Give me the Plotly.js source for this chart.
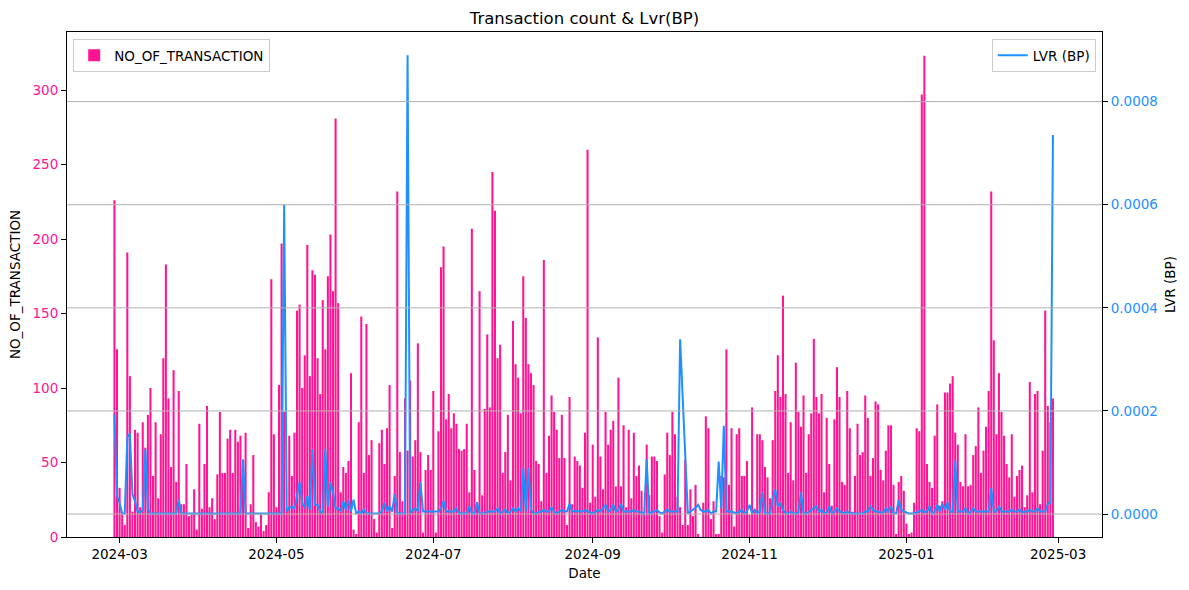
<!DOCTYPE html>
<html>
<head>
<meta charset="utf-8">
<script src="https://cdn.plot.ly/plotly-3.0.1.min.js"></script>
<style>
  body { margin: 0; background: white; }
  #chart { width: 1189px; height: 590px; }
</style>
</head>
<body>
<div id="chart"></div>
<script>
// daily data, first day 2024-02-28
var startDate = '2024-02-28';

// NO_OF_TRANSACTION per day
var txCount = [
  226, 126, 33, 15, 8, 191, 108, 17, 72, 70, 20, 77, 60, 82, 100, 41, 77, 26, 69, 120,
  183, 93, 47, 112, 37, 98, 22, 22, 49, 14, 15, 32, 5, 76,
  19, 49, 88, 20, 26, 12, 42, 84, 43, 43, 66, 72, 43, 72, 64, 68, 51, 70, 6, 22,
  55, 10, 7, 15, 4, 8, 30, 173, 69, 20, 102, 197, 84, 19, 68, 41, 70, 152, 156,
  100, 122, 196, 108, 179, 176, 120, 96, 159, 126, 175, 203, 165, 281, 157, 30, 47, 43, 51, 110,
  5, 2, 77, 148, 43, 143, 55, 65, 12, 3, 63, 72, 49, 73, 102, 6, 41,
  232, 57, 24, 93, 58, 105, 54, 65, 130, 57, 3, 45, 55, 45, 98, 3, 71, 181, 195, 79,
  96, 73, 83, 76, 59, 58, 59, 76, 30, 207, 45, 22, 165, 28, 86,
  136, 87, 245, 219, 120, 129, 43, 57, 82, 38, 145, 116, 107, 83, 175, 147, 116, 110, 102, 51,
  49, 24, 186, 43, 68, 95, 84, 72, 53, 82, 53, 8, 94, 22, 54, 51, 48,
  33, 70, 260, 23, 62, 27, 134, 54, 32, 84, 62, 72, 78, 34, 107, 34, 75, 20, 72, 26,
  70, 41, 48, 31, 15, 62, 28, 54, 54, 51, 14, 3, 42, 70, 55, 84,
  69, 27, 20, 8, 52, 8, 32, 14, 35, 2, 0, 23, 81, 73, 12, 24, 2, 2, 41, 40,
  126, 35, 73, 7, 69, 73, 41, 41, 51, 15, 87, 19, 69, 69, 65, 47, 40,
  26, 65, 98, 122, 94, 162, 96, 43, 77, 38, 117, 84, 74, 95, 43, 69, 83, 133, 94, 83,
  96, 30, 80, 49, 21, 79, 114, 94, 37, 35, 98, 73, 17, 41, 76, 55, 57,
  95, 80, 41, 53, 91, 89, 45, 38, 58, 75, 75, 35, 2, 37, 41, 31, 9, 2, 3, 23,
  73, 71, 297, 323, 49, 37, 33, 68, 89, 21, 24, 97, 97, 103, 108, 70, 62,
  37, 34, 69, 34, 35, 55, 61, 87, 43, 58, 74, 98, 232, 132, 69, 110, 84, 68, 49, 40,
  69, 27, 41, 45, 48, 20, 28, 104, 30, 96, 98, 22, 58, 152, 88, 77, 93
];

// LVR (BP) per day
var lvr = [
  1.93e-4, 3.5e-5, 2.2e-5, 1e-6, 1e-6, 1.49e-4, 1.56e-4, 3.8e-5, 2.5e-5, 5e-6,
  3e-6, 8e-6, 1.26e-4, 9e-6, 1e-6, 1e-6, 1e-6, 1e-6, 1e-6, 1e-6,
  1e-6, 1e-6, 1e-6, 1e-6, 1e-6, 2.8e-5, 1e-6, 1e-6, 1e-6, 1e-6,
  1e-6, 1e-6, 1e-6, 1e-6,
  1e-6, 1e-6, 1e-6, 1e-6, 1e-6, 1e-6, 1e-6, 1e-6, 1e-6, 1e-6,
  1e-6, 1e-6, 1e-6, 1e-6, 1e-6, 1e-6, 1.06e-4, 1e-6, 1e-6, 1e-6,
  1e-6, 1e-6, 1e-6, 1e-6, 1e-6, 1e-6, 1e-6, 1e-6, 1e-6, 1e-6,
  1e-6, 1e-6, 6.0e-4, 5e-6, 1.3e-5, 1.3e-5, 1.1e-5, 3.5e-5, 6.2e-5,
  2.2e-5, 1.1e-5, 3.5e-5, 8e-6, 1.26e-4, 1.8e-5, 1.8e-5, 5e-6, 1e-6, 1.26e-4,
  1.5e-5, 6.2e-5, 4.2e-5, 1.1e-5, 1.1e-5, 5e-6, 2.5e-5, 8e-6, 2.7e-5, 5e-6,
  2.8e-5, 1e-6, 5e-6, 1e-6, 9e-6, 1e-6, 1e-6, 1e-6, 1e-6, 1e-6,
  1e-6, 5e-6, 2.2e-5, 5e-6, 1.5e-5, 5e-6, 3.8e-5,
  1e-6, 1e-6, 1e-6, 1e-6, 8.9e-4, 1e-6, 8e-6, 1.1e-5, 5e-6, 6.2e-5,
  5e-6, 5e-6, 5e-6, 5e-6, 5e-6, 5e-6, 5e-6, 1.1e-5, 2.5e-5, 5e-6,
  5e-6, 5e-6, 5e-6, 1.1e-5, 1e-6, 1e-6, 1e-6, 1e-6, 1.5e-5, 1e-6,
  1e-6, 2.3e-5, 1e-6, 1e-6, 1e-6,
  5e-6, 5e-6, 5e-6, 5e-6, 1.1e-5, 1e-6, 5e-6, 9e-6, 1e-6, 5e-6,
  1.1e-5, 5e-6, 1.1e-5, 5e-6, 8.9e-5, 5e-6, 8.9e-5, 8e-6, 1e-6, 1e-6,
  4e-6, 5e-6, 8e-6, 5e-6, 5e-6, 1.3e-5, 5e-6, 1e-6, 5e-6, 8e-6,
  5e-6, 5e-6, 2e-5, 5e-6, 6e-6, 6e-6, 6e-6,
  5e-6, 8e-6, 5e-6, 3e-6, 1e-6, 5e-6, 8e-6, 5e-6, 1.1e-5, 1.8e-5,
  5e-6, 8e-6, 1.8e-5, 5e-6, 8e-6, 2e-5, 5e-6, 5e-6, 5e-6, 5e-6,
  8e-6, 5e-6, 5e-6, 3e-6, 0, 1.06e-4, 1e-6, 3e-6, 5e-6, 8e-6,
  3e-6, 1e-6, 5e-6, 9e-6, 5e-6, 5e-6,
  5e-6, 5e-6, 3.39e-4, 2.2e-4, 1.06e-4, 1e-6, 5e-6, 9e-6, 1.2e-5, 1.8e-5,
  8e-6, 5e-6, 5e-6, 8e-6, 1e-6, 5e-6, 5e-6, 1.02e-4, 1.1e-5, 1.71e-4,
  5e-6, 5e-6, 5e-6, 3e-6, 1e-6, 5e-6, 8e-6, 1e-6, 5e-6, 1.8e-5,
  1e-6, 8e-6, 1e-6, 5e-6, 4.2e-5, 1e-6, 1e-6,
  1e-6, 3e-5, 4.8e-5, 1.5e-5, 2.2e-5, 8e-6, 1e-6, 1e-6, 5e-6, 1e-6,
  1e-6, 3e-6, 4.2e-5, 1e-6, 1e-6, 4e-6, 8e-6, 1.1e-5, 1.5e-5, 5e-6,
  8e-6, 1e-6, 4e-6, 1.5e-5, 1e-6, 5e-6, 1.1e-5, 5e-6, 3e-6, 1e-6,
  5e-6, 2e-6, 1e-6, 1e-6, 1e-6, 1e-6, 1e-6,
  5e-6, 5e-6, 1.5e-5, 8e-6, 5e-6, 5e-6, 3e-6, 3e-6, 1.1e-5, 5e-6,
  1.5e-5, 1e-6, 1e-6, 2.7e-5, 8e-6, 5e-6, 3e-6, 1e-6, 1e-6, 1e-6,
  3e-6, 5e-6, 8e-6, 3e-6, 5e-6, 1.5e-5, 1e-6, 5e-6, 1.8e-5, 5e-6,
  2e-5, 8e-6, 2.2e-5, 5e-6, 4e-6, 1.04e-4, 5e-6,
  5e-6, 5e-6, 1.1e-5, 1e-6, 5e-6, 1.1e-5, 5e-6, 5e-6, 5e-6, 5e-6,
  5e-6, 5e-6, 5e-5, 5e-6, 5e-6, 1.5e-5, 5e-6, 5e-6, 5e-6, 5e-6,
  9e-6, 5e-6, 5e-6, 9e-6, 3e-6, 5e-6, 5e-6, 8e-6, 5e-6, 5e-6,
  1.1e-5, 5e-6, 5e-6, 5e-6, 2e-5, 2.2e-5, 7.35e-4
];

var xTickVals = ['2024-03-01', '2024-05-01', '2024-07-01', '2024-09-01', '2024-11-01', '2025-01-01', '2025-03-01'];
var xTickText = ['2024-03', '2024-05', '2024-07', '2024-09', '2024-11', '2025-01', '2025-03'];
var y2TickVals = [0, 0.0002, 0.0004, 0.0006, 0.0008];
var y2TickText = ['0.0000', '0.0002', '0.0004', '0.0006', '0.0008'];

var DAY = 86400000;
var dates = [];
var t0 = Date.parse(startDate + 'T00:00:00Z');
for (var i = 0; i < txCount.length; i++) {
  dates.push(new Date(t0 + i * DAY).toISOString().slice(0, 10));
}

var bars = {
  type: 'bar',
  x: dates,
  y: txCount,
  width: 0.8 * DAY,
  name: 'NO_OF_TRANSACTION',
  marker: {color: '#ff1493', line: {width: 0}},
  legend: 'legend'
};

var line = {
  type: 'scatter',
  mode: 'lines',
  x: dates.slice(0, lvr.length),
  y: lvr,
  yaxis: 'y2',
  name: 'LVR (BP)',
  line: {color: '#1e90ff', width: 2},
  legend: 'legend2'
};

// gridlines of the right axis, drawn over the bars like in the source
var grid = y2TickVals.map(function (v) {
  return {
    type: 'line', xref: 'paper', x0: 0, x1: 1, yref: 'y2', y0: v, y1: v,
    line: {color: '#b0b0b0', width: 1}, layer: 'above'
  };
});

var layout = {
  width: 1189,
  height: 590,
  margin: {l: 67, r: 87, t: 32, b: 53},
  paper_bgcolor: 'white',
  plot_bgcolor: 'white',
  font: {family: 'DejaVu Sans', size: 13.5, color: 'black'},
  title: {
    text: 'Transaction count & Lvr(BP)',
    font: {size: 16.5},
    x: 0.5, xref: 'paper', xanchor: 'center',
    y: 1 - 18 / 590, yref: 'container', yanchor: 'middle'
  },
  showlegend: true,
  xaxis: {
    type: 'date',
    range: ['2024-02-09 13:00', '2025-03-18 02:00'],
    tickvals: xTickVals,
    ticktext: xTickText,
    ticks: 'outside', ticklen: 5, tickcolor: 'black',
    showline: true, linecolor: 'black', linewidth: 1, mirror: true,
    showgrid: false, zeroline: false,
    title: {text: 'Date', standoff: 7, font: {size: 13.5}}
  },
  yaxis: {
    range: [0, 339],
    tickvals: [0, 50, 100, 150, 200, 250, 300],
    tickfont: {color: '#ff1493'},
    ticks: 'outside', ticklen: 5, tickcolor: 'black',
    showline: true, linecolor: 'black', linewidth: 1,
    showgrid: false, zeroline: false,
    title: {text: 'NO_OF_TRANSACTION', standoff: 8, font: {size: 13.5}}
  },
  yaxis2: {
    overlaying: 'y',
    side: 'right',
    range: [-4.45e-5, 9.35e-4],
    tickvals: y2TickVals,
    ticktext: y2TickText,
    tickfont: {color: '#1e90ff'},
    ticks: 'outside', ticklen: 5, tickcolor: 'black',
    showline: true, linecolor: 'black', linewidth: 1,
    showgrid: false, zeroline: false,
    title: {text: 'LVR (BP)', standoff: 8, font: {size: 13.5}}
  },
  legend: {
    x: 0.006, y: 0.986, xanchor: 'left', yanchor: 'top',
    bgcolor: 'rgba(255,255,255,0.8)', bordercolor: '#cccccc', borderwidth: 1,
    font: {size: 13.5}
  },
  legend2: {
    x: 0.994, y: 0.986, xanchor: 'right', yanchor: 'top',
    bgcolor: 'rgba(255,255,255,0.8)', bordercolor: '#cccccc', borderwidth: 1,
    font: {size: 13.5}
  },
  shapes: grid
};

Plotly.newPlot('chart', [bars, line], layout, {displayModeBar: false});
</script>
</body>
</html>
